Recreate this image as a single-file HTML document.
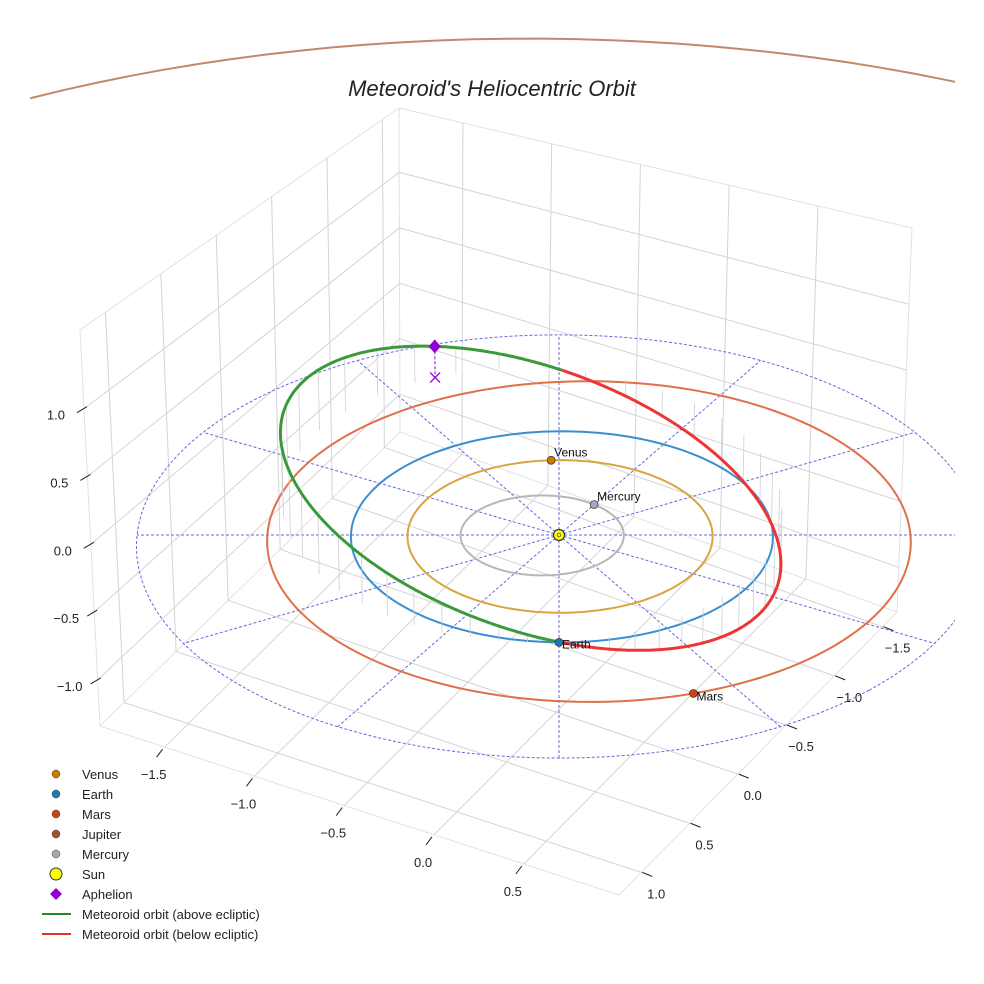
<!DOCTYPE html>
<html><head><meta charset="utf-8"><title>Meteoroid's Heliocentric Orbit</title>
<style>
html,body{margin:0;padding:0;background:#fff;overflow:hidden;width:984px;height:984px;}
svg{display:block;font-family:"Liberation Sans",sans-serif;}
</style></head>
<body>
<svg id="chart" width="984" height="984" viewBox="0 0 984 984" xmlns="http://www.w3.org/2000/svg">
<defs><clipPath id="clipAx"><rect x="30" y="0" width="925" height="984"/></clipPath></defs>
</svg>
<script>
// ---- data ----
const planetNames = ['Mercury','Venus','Earth','Mars','Jupiter'];
const planetA = [0.387, 0.723, 1.0, 1.524, 5.203];
const planetE = [0.206, 0.007, 0.017, 0.093, 0.048];
const planetPeri = [315, 130, 100, 135, 5];
const planetLon = [255, 222, 45, 22];
const orbitColors = ['#bdb5b5','#d9a441','#3b8fd0','#e07048','#c08a6a'];
const markerColors = ['#a8a4c4','#cc7a00','#1f77b4','#cc4411','#a0522d'];
const metA = 1.33, metE = 0.27, metI = 22, metNode = 45, metArgPeri = 337;
const xTicks = [-1.5,-1.0,-0.5,0.0,0.5];
const yTicks = [-1.5,-1.0,-0.5,0.0,0.5,1.0];
const zTicks = [-1.0,-0.5,0.0,0.5,1.0];
const xLim = [-1.86, 1.03], yLim = [-1.65, 1.23], zLim = [-1.34, 1.58];
const refRadius = 2.0;
const spokeAngles = [15,45,75,105,135,165,195,225,255,285,315,345];

const svg = document.getElementById('chart');
const NS = 'http://www.w3.org/2000/svg';
function mk(tag, attrs, parent){const e=document.createElementNS(NS,tag);for(const k in attrs)e.setAttribute(k,attrs[k]);(parent||svg).appendChild(e);return e;}
const rad = d => d*Math.PI/180;

const CX=559, CY=535, S=211, D=32, EL=rad(30), ZS=0.71;
function proj(x,y,z){
  const h=(x-y)*0.7071, d=(x+y)*0.7071, zz=z*ZS;
  const v=zz*Math.cos(EL)-d*Math.sin(EL), w=zz*Math.sin(EL)+d*Math.cos(EL);
  const f=D/(D-w);
  return [CX+S*h*f, CY-S*v*f];
}
const B=[400,432], L=[100,726], F=[619,895], R=[897,612];
const Bt=[399,108], Lt=[80,330], Rt=[912,228];
const lerp=(a,b,t)=>[a[0]+(b[0]-a[0])*t,a[1]+(b[1]-a[1])*t];
function floorPt(u,v){const a=lerp(B,R,u), b=lerp(L,F,u);return lerp(a,b,v);}
const ux = x => (x-xLim[0])/(xLim[1]-xLim[0]);
const vy = y => (y-yLim[0])/(yLim[1]-yLim[0]);
const wz = z => (z-zLim[0])/(zLim[1]-zLim[0]);

const grid = mk('g',{});


const gs={stroke:'#d4d4d4','stroke-width':1,fill:'none'};
[[B,L],[B,R],[L,F],[F,R],[B,Bt],[L,Lt],[R,Rt],[Bt,Lt],[Bt,Rt]].forEach(p=>{
  const ln=mk('line',Object.assign({x1:p[0][0],y1:p[0][1],x2:p[1][0],y2:p[1][1]},gs,{stroke:'#e2e2e2'}),grid);
  
  
});
xTicks.forEach(x=>{const a=floorPt(ux(x),0),b=floorPt(ux(x),1);
  const ln=mk('line',Object.assign({x1:a[0],y1:a[1],x2:b[0],y2:b[1]},gs),grid);
  
  
  const t=lerp(Bt,Rt,ux(x));
  const vl=mk('line',Object.assign({x1:a[0],y1:a[1],x2:t[0],y2:t[1]},gs),grid);
  
  
});
yTicks.forEach(y=>{const a=floorPt(0,vy(y)),b=floorPt(1,vy(y));
  const ln=mk('line',Object.assign({x1:a[0],y1:a[1],x2:b[0],y2:b[1]},gs),grid);
  
  
  const t=lerp(Bt,Lt,vy(y));
  const vl=mk('line',Object.assign({x1:a[0],y1:a[1],x2:t[0],y2:t[1]},gs),grid);
  
  
});
zTicks.forEach(z=>{const t=wz(z);const pl=lerp(L,Lt,t),pb=lerp(B,Bt,t),pr=lerp(R,Rt,t);
  const ln=mk('polyline',Object.assign({points:[pl,pb,pr].map(p=>p.join(',')).join(' ')},gs),grid);
  
  
});
const ax=mk('g',{'font-size':13,fill:'#222'});


const fmt=v=>(v<0?'\u2212':'')+Math.abs(v).toFixed(1);
xTicks.forEach(x=>{const p=floorPt(ux(x),1);
  const tk=mk('line',{x1:p[0]-2,y1:p[1]+2,x2:p[0]-8,y2:p[1]+10,stroke:'#222','stroke-width':1},ax);
  
  
  const tx=mk('text',{x:p[0]-11,y:p[1]+32,'text-anchor':'middle'},ax);tx.textContent=fmt(x);
  
  
});
yTicks.forEach(y=>{const p=floorPt(1,vy(y));
  const tk=mk('line',{x1:p[0]+1,y1:p[1],x2:p[0]+11,y2:p[1]+4,stroke:'#222','stroke-width':1},ax);
  
  
  const tx=mk('text',{x:p[0]+15,y:p[1]+26,'text-anchor':'middle'},ax);tx.textContent=fmt(y);
  
  
});
zTicks.forEach(z=>{const p=lerp(L,Lt,wz(z));
  const tk=mk('line',{x1:p[0]-7,y1:p[1]+4,x2:p[0]+3,y2:p[1]-2,stroke:'#222','stroke-width':1},ax);
  
  
  const tx=mk('text',{x:p[0]-28,y:p[1]+11,'text-anchor':'middle'},ax);tx.textContent=fmt(z);
  
  
});

const scene=mk('g',{'clip-path':'url(#clipAx)'});


const refPts=[];for(let k=0;k<=360;k+=3){refPts.push(proj(refRadius*Math.cos(rad(k)),refRadius*Math.sin(rad(k)),0));}
const rc=mk('polyline',{points:refPts.map(p=>p.join(',')).join(' '),fill:'none',stroke:'#6666dd','stroke-width':1,'stroke-dasharray':'3,2'},scene);


spokeAngles.forEach(a=>{const p=proj(refRadius*Math.cos(rad(a)),refRadius*Math.sin(rad(a)),0);
  const ln=mk('line',{x1:CX,y1:CY,x2:p[0],y2:p[1],stroke:'#6666dd','stroke-width':1,'stroke-dasharray':'3,2'},scene);
  
  
});
const hz=mk('line',{x1:CX,y1:CY,x2:955,y2:CY,stroke:'#6666dd','stroke-width':1,'stroke-dasharray':'3,2'},scene);



function orbitR(a,e,nu){return a*(1-e*e)/(1+e*Math.cos(nu));}
planetNames.forEach((n,i)=>{
  const pts=[];for(let k=0;k<=360;k+=2){const th=rad(k);const r=orbitR(planetA[i],planetE[i],th-rad(planetPeri[i]));pts.push(proj(r*Math.cos(th),r*Math.sin(th),0));}
  const pl=mk('polyline',{points:pts.map(p=>p.map(v=>v.toFixed(1)).join(',')).join(' '),fill:'none',stroke:orbitColors[i],'stroke-width':2},scene);
  
  
});
function metPos(nu){const r=orbitR(metA,metE,nu);const u=nu+rad(metArgPeri);const O=rad(metNode),I=rad(metI);
  return [r*(Math.cos(O)*Math.cos(u)-Math.sin(O)*Math.sin(u)*Math.cos(I)), r*(Math.sin(O)*Math.cos(u)+Math.cos(O)*Math.sin(u)*Math.cos(I)), r*Math.sin(u)*Math.sin(I)];}
for(let k=0;k<360;k+=8){const q=metPos(rad(k));const a=proj(q[0],q[1],q[2]),b=proj(q[0],q[1],0);
  const ln=mk('line',{x1:a[0],y1:a[1],x2:b[0],y2:b[1],stroke:'#cfcfcf','stroke-width':0.8},scene);
  
  
}
let segs=[],cur=null,sign=null;
for(let k=0;k<=720;k++){const q=metPos(rad(k/2));const s=q[2]>=0;const p=proj(q[0],q[1],q[2]);
  if(s!==sign){if(cur)cur.pts.push(p);cur={above:s,pts:[]};segs.push(cur);sign=s;}
  cur.pts.push(p);}
segs.forEach(sg=>{const pl=mk('polyline',{points:sg.pts.map(p=>p.map(v=>v.toFixed(1)).join(',')).join(' '),fill:'none',stroke:sg.above?'#3a9a3a':'#ee3535','stroke-width':3,'stroke-linejoin':'round'},scene);
  
  });
const aq=metPos(Math.PI);const ap=proj(aq[0],aq[1],aq[2]),ab=proj(aq[0],aq[1],0);
const al=mk('line',{x1:ap[0],y1:ap[1],x2:ab[0],y2:ab[1],stroke:'#9400d3','stroke-width':1,'stroke-dasharray':'3,2'},scene);


const ax2=mk('path',{d:`M${ab[0]-5},${ab[1]-5}L${ab[0]+5},${ab[1]+5}M${ab[0]-5},${ab[1]+5}L${ab[0]+5},${ab[1]-5}`,stroke:'#9400d3','stroke-width':1.3},scene);


const ad=mk('path',{d:`M${ap[0]},${ap[1]-7}L${ap[0]+6},${ap[1]}L${ap[0]},${ap[1]+7}L${ap[0]-6},${ap[1]}Z`,fill:'#9400d3'},scene);


planetLon.forEach((lon,i)=>{const th=rad(lon);const r=orbitR(planetA[i],planetE[i],th-rad(planetPeri[i]));const p=proj(r*Math.cos(th),r*Math.sin(th),0);
  const c=mk('circle',{cx:p[0],cy:p[1],r:4,fill:markerColors[i],stroke:'#333','stroke-width':0.7},scene);
  
  
  const t=mk('text',{x:p[0]+3,y:p[1]-4+(i>=2?11:0),'font-size':12,fill:'#111'},scene);t.textContent=planetNames[i];
  if(i===2){t.setAttribute('y',p[1]+6);}
  
  
});
const sun=mk('circle',{cx:CX,cy:CY,r:5.5,fill:'#ffff00',stroke:'#333','stroke-width':1.2},scene);


const sunc=mk('circle',{cx:CX,cy:CY,r:1.8,fill:'none',stroke:'#555','stroke-width':0.8},scene);



const title=mk('text',{x:492,y:96,'text-anchor':'middle','font-size':22,'font-style':'italic',fill:'#222'});
title.textContent="Meteoroid's Heliocentric Orbit";



const legNames=['Venus','Earth','Mars','Jupiter','Mercury','Sun','Aphelion','Meteoroid orbit (above ecliptic)','Meteoroid orbit (below ecliptic)'];
const lg=mk('g',{'font-size':13,fill:'#222'});


const legMarkerColors=['#cc7a00','#1f77b4','#cc4411','#a0522d','#b0a4a4'];
legNames.forEach((n,i)=>{const y=774+i*20;
  let m;
  if(i<5){m=mk('circle',{cx:56,cy:y,r:4,fill:legMarkerColors[i],stroke:'#444','stroke-width':0.5},lg);}
  else if(i===5){m=mk('circle',{cx:56,cy:y,r:6,fill:'#ffff00',stroke:'#333','stroke-width':1},lg);}
  else if(i===6){m=mk('path',{d:`M56,${y-6}L62,${y}L56,${y+6}L50,${y}Z`,fill:'#9400d3'},lg);}
  else {m=mk('line',{x1:42,y1:y,x2:71,y2:y,stroke:i===7?'#228b22':'#e03030','stroke-width':2},lg);}
  
  
  const t=mk('text',{x:82,y:y+5},lg);t.textContent=n;
  
  
});
</script>
</body></html>
